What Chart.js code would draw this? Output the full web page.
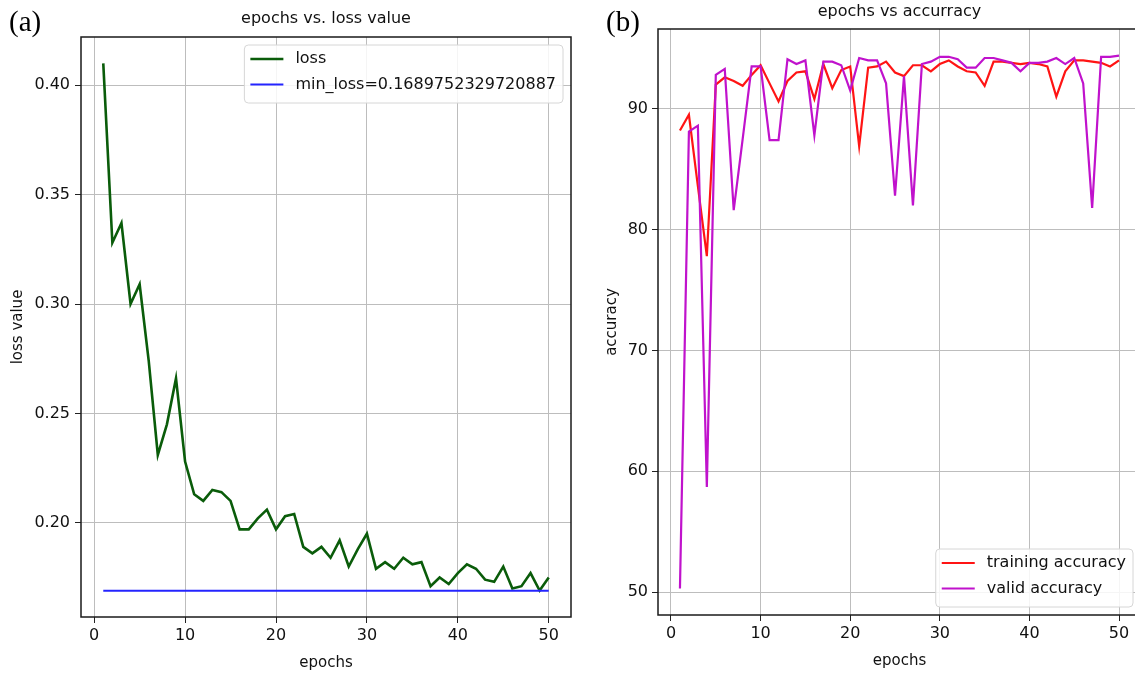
<!DOCTYPE html>
<html>
<head>
<meta charset="utf-8">
<script src="https://cdn.jsdelivr.net/npm/chart.js@4.4.0/dist/chart.umd.min.js"></script>
<style>
body { margin:0; width:1135px; height:673px; overflow:hidden; background:#fff; position:relative; }
canvas { position:absolute; top:0; }
.panel { position:absolute; z-index:2; font-family:"Liberation Serif","Times New Roman",serif; font-size:29px; line-height:29px; color:#000; }
</style>
</head>
<body>
<canvas id="lossChart" width="580" height="673" style="left:0"></canvas>
<canvas id="accChart" width="545" height="673" style="left:600px"></canvas>
<div class="panel" style="left:9px;top:7px">(a)</div>
<div class="panel" style="left:606px;top:7px">(b)</div>
<script>
// values
const epochs = [1,2,3,4,5,6,7,8,9,10,11,12,13,14,15,16,17,18,19,20,21,22,23,24,25,
                26,27,28,29,30,31,32,33,34,35,36,37,38,39,40,41,42,43,44,45,46,47,48,49,50];

const lossValues = [0.410,0.328,0.337,0.300,0.309,0.274,0.231,0.245,0.266,0.228,
                    0.213,0.210,0.215,0.214,0.210,0.197,0.197,0.202,0.206,0.197,
                    0.203,0.204,0.189,0.186,0.189,0.184,0.192,0.180,0.188,0.195,
                    0.179,0.182,0.179,0.184,0.181,0.182,0.171,0.175,0.172,0.177,
                    0.181,0.179,0.174,0.173,0.180,0.170,0.171,0.177,0.169,0.175];
const minLoss = 0.1689752329720887;
const minLossX = [1, 50];

const trainAcc = [88.2,89.5,83.6,77.8,92.0,92.6,92.3,91.9,92.8,93.6,
                  92.1,90.6,92.3,93.0,93.1,90.8,93.7,91.7,93.2,93.5,
                  86.9,93.4,93.5,93.9,93.0,92.7,93.6,93.6,93.1,93.7,
                  94.0,93.5,93.1,93.0,91.9,93.9,93.9,93.8,93.7,93.8,
                  93.7,93.5,91.0,93.1,94.0,94.0,93.9,93.8,93.5,94.0];
const validAcc = [50.3,88.1,88.6,58.7,92.8,93.3,81.6,87.5,93.5,93.5,
                  87.4,87.4,94.1,93.7,94.0,87.8,93.9,93.9,93.6,91.5,
                  94.2,94.0,94.0,92.1,82.8,92.7,82.0,93.7,93.9,94.3,
                  94.3,94.1,93.4,93.4,94.2,94.2,94.0,93.8,93.1,93.8,
                  93.8,93.9,94.2,93.7,94.2,92.1,81.8,94.3,94.3,94.4];

const lossXTicks = [0,10,20,30,40,50];
const lossYTicks = [0.20,0.25,0.30,0.35,0.40];
const accXTicks = [0,10,20,30,40,50];
const accYTicks = [50,60,70,80,90];

const FONT = 'DejaVu Sans';

// matplotlib style frame on all four sides
const frame = {
    id: 'frame',
    afterDatasetsDraw(chart) {
        const {ctx, chartArea: a} = chart;
        ctx.save();
        ctx.strokeStyle = '#1a1a1a';
        ctx.lineWidth = 1.5;
        ctx.strokeRect(a.left, a.top, a.right - a.left, a.bottom - a.top);
        ctx.restore();
    }
};

// title centred over the plot area, not the canvas
const areaTitle = {
    id: 'areaTitle',
    afterDraw(chart, args, o) {
        const {ctx, chartArea: a} = chart;
        ctx.save();
        ctx.font = '16px "' + FONT + '"';
        ctx.fillStyle = '#111';
        ctx.textAlign = 'center';
        ctx.textBaseline = 'middle';
        ctx.fillText(o.text, (a.left + a.right) / 2, o.y);
        ctx.restore();
    }
};

// legend box drawn inside the plot area
const boxLegend = {
    id: 'boxLegend',
    afterDraw(chart, args, o) {
        const {ctx, chartArea: a} = chart;
        const sets = chart.data.datasets;
        ctx.save();
        ctx.font = '16px "' + FONT + '"';
        const textW = Math.max(...sets.map(d => ctx.measureText(d.label).width));
        const w = 51 + textW + 7;
        const h = 58;
        const x = a.right - o.margin - w;
        const y = o.bottom ? a.bottom - o.margin - h : a.top + o.margin;
        ctx.beginPath();
        ctx.roundRect(x, y, w, h, 4);
        ctx.fillStyle = 'rgba(255,255,255,0.85)';
        ctx.fill();
        ctx.strokeStyle = '#d6d6d6';
        ctx.lineWidth = 1;
        ctx.stroke();
        sets.forEach((d, i) => {
            const cy = y + 14 + i * 25.5;
            ctx.strokeStyle = d.borderColor;
            ctx.lineWidth = d.borderWidth;
            ctx.beginPath();
            ctx.moveTo(x + 6, cy);
            ctx.lineTo(x + 39, cy);
            ctx.stroke();
            ctx.fillStyle = '#111';
            ctx.textBaseline = 'middle';
            ctx.fillText(d.label, x + 51, cy);
        });
        ctx.restore();
    }
};

function toPoints(xs, ys) {
    return xs.map((x, i) => ({x: x, y: ys[i]}));
}

function makeAxis(min, max, tickList, fmt, title, titlePad, size, tickPad) {
    return {
        type: 'linear',
        min: min,
        max: max,
        afterBuildTicks: s => { s.ticks = tickList.map(v => ({value: v})); },
        afterFit: s => { if (s.isHorizontal()) s.height = size; else s.width = size; },
        ticks: {
            autoSkip: false,
            padding: tickPad,
            color: '#111',
            font: {family: FONT, size: 16},
            callback: fmt
        },
        grid: {color: '#bdbdbd', lineWidth: 1, tickColor: '#222', tickLength: 6},
        border: {display: false},
        title: {
            display: true,
            text: title,
            color: '#111',
            font: {family: FONT, size: 15},
            padding: titlePad
        }
    };
}

function makeOptions(titleText, titleY, padTop, legendOpts, padRight, xAxis, yAxis) {
    return {
        responsive: false,
        animation: false,
        layout: {padding: {left: 0, right: padRight, top: padTop, bottom: 0}},
        plugins: {
            legend: {display: false},
            tooltip: {enabled: false},
            title: {display: false},
            areaTitle: {text: titleText, y: titleY},
            boxLegend: legendOpts
        },
        scales: {x: xAxis, y: yAxis}
    };
}

new Chart(document.getElementById('lossChart'), {
    type: 'line',
    data: {
        datasets: [
            {
                label: 'loss',
                data: toPoints(epochs, lossValues),
                borderColor: '#0a5c0a',
                borderWidth: 2.6,
                pointRadius: 0,
                tension: 0,
                order: 1
            },
            {
                label: 'min_loss=' + minLoss,
                data: minLossX.map(x => ({x: x, y: minLoss})),
                borderColor: '#2424ff',
                borderWidth: 2,
                pointRadius: 0,
                order: 0
            }
        ]
    },
    options: makeOptions('epochs vs. loss value', 19, 37, {margin: 8, bottom: false}, 9,
        makeAxis(-1.45, 52.45, lossXTicks, v => String(v), 'epochs', {top: 0, bottom: 1}, 56, 3),
        makeAxis(0.15693, 0.42205, lossYTicks, v => v.toFixed(2), 'loss value', {top: 9, bottom: 0}, 81, 5)),
    plugins: [frame, areaTitle, boxLegend]
});

new Chart(document.getElementById('accChart'), {
    type: 'line',
    data: {
        datasets: [
            {
                label: 'training accuracy',
                data: toPoints(epochs, trainAcc),
                borderColor: '#ff1414',
                borderWidth: 2.2,
                pointRadius: 0,
                tension: 0,
                order: 1
            },
            {
                label: 'valid accuracy',
                data: toPoints(epochs, validAcc),
                borderColor: '#c012cc',
                borderWidth: 2.2,
                pointRadius: 0,
                tension: 0,
                order: 0
            }
        ]
    },
    options: makeOptions('epochs vs accurracy', 12, 29, {margin: 8, bottom: true}, 4,
        makeAxis(-1.45, 52.45, accXTicks, v => String(v), 'epochs', {top: 0, bottom: 3}, 58, 3),
        makeAxis(48.1, 96.6, accYTicks, v => String(v), 'accuracy', {top: 3, bottom: 0}, 58, 4)),
    plugins: [frame, areaTitle, boxLegend]
});
</script>
</body>
</html>
